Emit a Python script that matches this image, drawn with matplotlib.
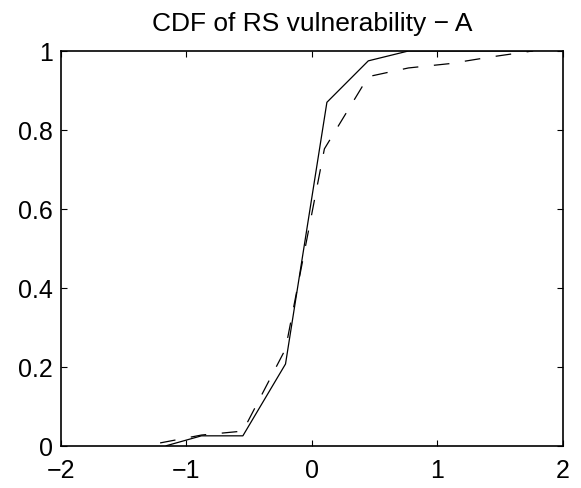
import matplotlib
matplotlib.use("Agg")
import matplotlib.pyplot as plt

# solid curve
x_solid = [-1.16, -0.88, -0.55, -0.21, 0.12, 0.45, 0.77, 1.76]
y_solid = [0.0, 0.025, 0.025, 0.207, 0.87, 0.975, 1.0, 1.0]

# dashed curve
x_dashed = [-1.21, -0.88, -0.55, -0.21, 0.10, 0.45, 0.77, 1.10, 1.43, 1.76]
y_dashed = [0.007, 0.027, 0.037, 0.245, 0.752, 0.935, 0.957, 0.968, 0.985, 1.0]

x_ticks = [-2, -1, 0, 1, 2]
y_ticks = [0, 0.2, 0.4, 0.6, 0.8, 1]

plt.rcParams["font.family"] = ["Liberation Sans", "DejaVu Sans"]

fig = plt.figure(figsize=(5.81, 4.89), dpi=100)
ax = fig.add_axes([0.105, 0.0865, 0.8635, 0.8072])

ax.plot(x_solid, y_solid, color="black", linewidth=0.9, linestyle="-")
ax.plot(x_dashed, y_dashed, color="black", linewidth=0.9, dashes=(12.5, 12.5))

ax.set_xlim(-2, 2)
ax.set_ylim(0, 1)
ax.set_xticks(x_ticks)
ax.set_yticks(y_ticks)
ax.set_xticklabels(["\u22122", "\u22121", "0", "1", "2"])
ax.set_yticklabels(["0", "0.2", "0.4", "0.6", "0.8", "1"])
ax.tick_params(direction="in", length=4, width=0.8, top=True, right=True,
               labelsize=18)
ax.tick_params(axis="x", pad=9)
ax.tick_params(axis="y", pad=6)
for s in ax.spines.values():
    s.set_linewidth(1.2)

ax.set_title("CDF of RS vulnerability \u2212 A", fontsize=19, pad=15)

fig.savefig("out.png", dpi=100)
